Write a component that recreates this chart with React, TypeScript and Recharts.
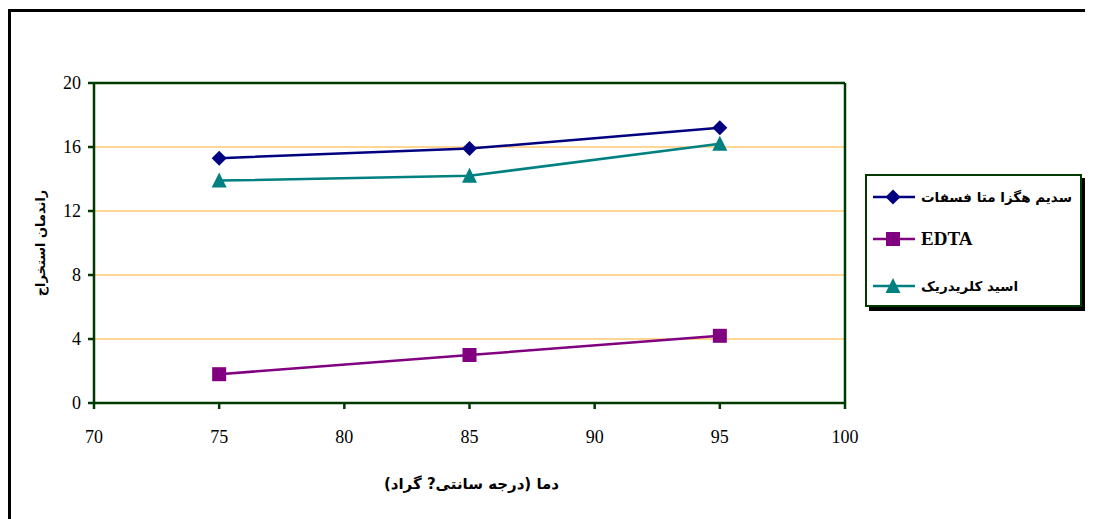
import React from 'react';
import { LineChart, Line, XAxis, YAxis, CartesianGrid, ReferenceLine, Label } from 'recharts';

// Extraction yield versus temperature for three extraction agents
const temperatures = [75, 85, 95];
const hexametaphosphate = [15.3, 15.9, 17.2];
const edta = [1.8, 3.0, 4.2];
const hydrochloricAcid = [13.9, 14.2, 16.2];

const xTicks = [70, 75, 80, 85, 90, 95, 100];
const yTicks = [0, 4, 8, 12, 16, 20];

const seriesNames = ['سدیم هگزا متا فسفات', 'EDTA', 'اسید کلریدریک'];
const xTitle = 'دما (درجه سانتی? گراد)';
const yTitle = 'راندمان استخراج';

const data = temperatures.map((t, i) => ({
  t,
  hex: hexametaphosphate[i],
  edta: edta[i],
  hcl: hydrochloricAcid[i],
}));

const AXIS_GREEN = '#003a00';
const GRID_ORANGE = '#FFC870';
const NAVY = '#000080';
const PURPLE = '#800080';
const TEAL = '#008080';

const serifFont = '"Liberation Serif", "Times New Roman", serif';
const arabicFont = '"DejaVu Sans", sans-serif';

type Shape = 'diamond' | 'square' | 'triangle';

const series: { key: 'hex' | 'edta' | 'hcl'; name: string; shape: Shape; color: string }[] = [
  { key: 'hex', name: seriesNames[0], shape: 'diamond', color: NAVY },
  { key: 'edta', name: seriesNames[1], shape: 'square', color: PURPLE },
  { key: 'hcl', name: seriesNames[2], shape: 'triangle', color: TEAL },
];

function marker(shape: Shape, cx: number, cy: number, color: string, key?: string) {
  if (shape === 'diamond') {
    return <path key={key} d={`M${cx},${cy - 7.5} L${cx + 7.5},${cy} L${cx},${cy + 7.5} L${cx - 7.5},${cy} Z`} fill={color} />;
  }
  if (shape === 'square') {
    return <rect key={key} x={cx - 7} y={cy - 7} width={14} height={14} fill={color} />;
  }
  return <path key={key} d={`M${cx},${cy - 8} L${cx + 7.5},${cy + 7} L${cx - 7.5},${cy + 7} Z`} fill={color} />;
}

const makeDot = (shape: Shape, color: string) => (props: any) => {
  const { cx, cy, index } = props;
  if (cx == null || cy == null) return <g key={`n${index}`} />;
  return marker(shape, cx, cy, color, `${shape}${index}`);
};

const tickStyle: React.CSSProperties = { fontFamily: serifFont, fontSize: 18 };

const XTick = (p: any) => (
  <text x={p.x} y={p.y} dy={14} textAnchor="middle" fill="#000" style={tickStyle}>
    {p.payload.value}
  </text>
);

const YTick = (p: any) => (
  <text x={p.x} y={p.y} dy={6} textAnchor="end" fill="#000" style={tickStyle}>
    {p.payload.value}
  </text>
);

// legend row centres, measured from the inside of the legend frame
const legendRowCenters = [21, 63, 110];

const LegendBox = () => (
  <div
    style={{
      position: 'absolute',
      left: 857,
      top: 166,
      width: 213,
      height: 129,
      border: `2px solid ${AXIS_GREEN}`,
      boxShadow: '4px 4px 0 #000',
      background: '#fff',
    }}
  >
    {series.map((s, i) => {
      const isArabic = /[\u0600-\u06FF]/.test(s.name);
      return (
        <div
          key={s.key}
          style={{ position: 'absolute', left: 0, top: legendRowCenters[i] - 12, height: 24, display: 'flex', alignItems: 'center' }}
        >
          <svg width={54} height={20} style={{ flex: 'none', display: 'block' }}>
            <line x1={6} y1={10} x2={48} y2={10} stroke={s.color} strokeWidth={2.5} />
            {marker(s.shape, 26, 10, s.color)}
          </svg>
          <span
            style={{
              fontFamily: isArabic ? arabicFont : serifFont,
              fontWeight: 'bold',
              fontSize: isArabic ? 13.5 : 19,
              color: '#000',
              whiteSpace: 'nowrap',
              lineHeight: '24px',
              direction: isArabic ? 'rtl' : 'ltr',
              unicodeBidi: 'isolate',
            }}
          >
            {s.name}
          </span>
        </div>
      );
    })}
  </div>
);

export default function App() {
  return (
    <div
      style={{
        position: 'relative',
        width: 1085,
        height: 511,
        overflow: 'hidden',
        background: '#fff',
        fontFamily: serifFont,
      }}
    >
      <div
        style={{
          position: 'absolute',
          left: 0,
          top: 1,
          width: 1200,
          height: 700,
          borderTop: '3px solid #000',
          borderLeft: '3px solid #000',
        }}
      />
      <div style={{ position: 'absolute', left: 0, top: 0 }}>
        <LineChart
          width={1085}
          height={511}
          data={data}
          margin={{ top: 75, right: 248, left: 26, bottom: 86 }}
        >
          <CartesianGrid vertical={false} stroke={GRID_ORANGE} strokeWidth={1.5} />
          <XAxis
            dataKey="t"
            type="number"
            domain={[70, 100]}
            ticks={xTicks}
            height={30}
            stroke={AXIS_GREEN}
            strokeWidth={2.5}
            tickSize={6}
            tickMargin={20}
            tick={<XTick />}
          >
            <Label
              content={(p: any) => {
                const vb = p.viewBox || {};
                return (
                  <text
                    x={vb.x + vb.width / 2 + 2}
                    y={vb.y + 81}
                    textAnchor="middle"
                    dominantBaseline="central"
                    fill="#000"
                    style={{ direction: 'rtl', unicodeBidi: 'plaintext', fontFamily: arabicFont, fontWeight: 'bold', fontSize: 15 } as any}
                  >
                    {xTitle}
                  </text>
                );
              }}
            />
          </XAxis>
          <YAxis
            type="number"
            domain={[0, 20]}
            ticks={yTicks}
            width={60}
            stroke={AXIS_GREEN}
            strokeWidth={2.5}
            tickSize={6}
            tickMargin={7}
            tick={<YTick />}
          >
            <Label
              content={(p: any) => {
                const vb = p.viewBox || {};
                const cx = vb.x + 6;
                const cy = vb.y + vb.height / 2;
                return (
                  <text
                    x={cx}
                    y={cy}
                    transform={`rotate(-90 ${cx} ${cy})`}
                    textAnchor="middle"
                    dominantBaseline="central"
                    fill="#000"
                    style={{ direction: 'rtl', fontFamily: arabicFont, fontWeight: 'bold', fontSize: 13 } as any}
                  >
                    {yTitle}
                  </text>
                );
              }}
            />
          </YAxis>
          <ReferenceLine y={20} stroke={AXIS_GREEN} strokeWidth={2.5} />
          <ReferenceLine x={100} stroke={AXIS_GREEN} strokeWidth={2.5} />
          {series.map((s) => (
            <Line
              key={s.key}
              dataKey={s.key}
              name={s.name}
              stroke={s.color}
              strokeWidth={2.5}
              dot={makeDot(s.shape, s.color)}
              activeDot={false}
              isAnimationActive={false}
            />
          ))}
        </LineChart>
      </div>
      <LegendBox />
    </div>
  );
}
